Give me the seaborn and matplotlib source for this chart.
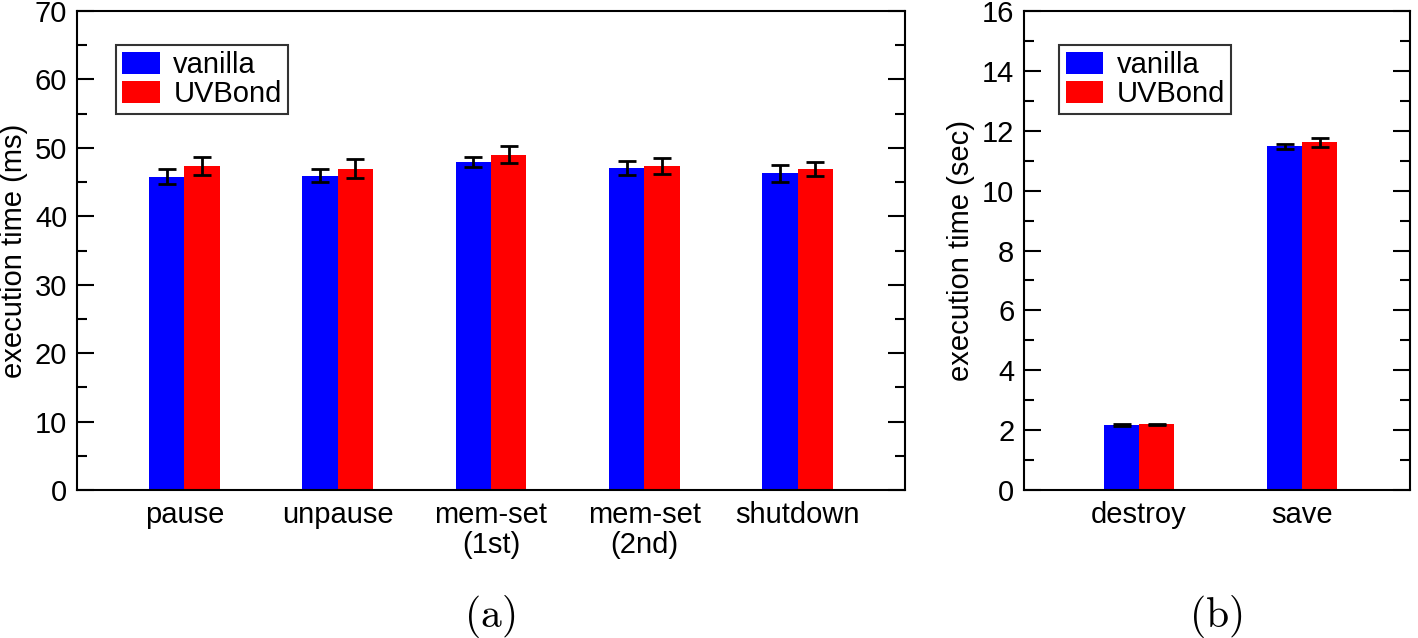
import matplotlib
matplotlib.use("Agg")
import matplotlib.pyplot as plt
import seaborn as sns
import pandas as pd
import numpy as np
from matplotlib.ticker import MultipleLocator

# %% DATA ────────────────────────────────────────────────────────────────
ops_ms      = ["pause", "unpause", "mem-set\n(1st)", "mem-set\n(2nd)", "shutdown"]
vanilla_ms  = [45.8, 45.95, 47.95, 47.05, 46.3]
vanilla_err = [1.07, 0.93, 0.75, 1.05, 1.24]
uvbond_ms   = [47.35, 46.95, 49.0, 47.35, 46.95]
uvbond_err  = [1.36, 1.37, 1.2, 1.17, 1.05]

ops_sec         = ["destroy", "save"]
vanilla_sec     = [2.17, 11.48]
vanilla_sec_err = [0.02, 0.08]
uvbond_sec      = [2.20, 11.61]
uvbond_sec_err  = [0.02, 0.16]

systems = ["vanilla", "UVBond"]
colors  = {"vanilla": "#0000ff", "UVBond": "#ff0000"}

# %% STYLE ───────────────────────────────────────────────────────────────
sns.set_style("ticks")
plt.rcParams["font.family"] = ["Liberation Sans", "DejaVu Sans"]
plt.rcParams["mathtext.fontset"] = "cm"
for k in ["text.color", "axes.labelcolor", "xtick.color", "ytick.color", "axes.edgecolor"]:
    plt.rcParams[k] = "black"

FS = 21


def make_frame(ops, van, van_e, uvb, uvb_e):
    rows = []
    for o, v, e in zip(ops, van, van_e):
        rows.append({"op": o, "system": "vanilla", "time": v, "err": e})
    for o, v, e in zip(ops, uvb, uvb_e):
        rows.append({"op": o, "system": "UVBond", "time": v, "err": e})
    return pd.DataFrame(rows)


def draw_panel(ax, df, ops, width, ylim, major, minor, ylabel, xlim, leg_x):
    sns.barplot(data=df, x="op", y="time", hue="system", hue_order=systems,
                order=ops, palette=colors, width=width, gap=0, errorbar=None,
                saturation=1, ax=ax, linewidth=0)
    # error bars at the centre of every bar
    for cont, sys_name in zip(ax.containers, systems):
        errs = df[df["system"] == sys_name].set_index("op").loc[ops, "err"].values
        xs = [p.get_x() + p.get_width() / 2 for p in cont.patches]
        hs = [p.get_height() for p in cont.patches]
        ax.errorbar(xs, hs, yerr=errs, fmt="none", ecolor="black",
                    elinewidth=2, capsize=6.5, capthick=2)
    ax.set_ylim(*ylim)
    ax.set_xlim(*xlim)
    ax.yaxis.set_major_locator(MultipleLocator(major))
    ax.yaxis.set_minor_locator(MultipleLocator(minor))
    ax.tick_params(axis="y", which="both", direction="in", left=True, right=True,
                   width=1.5, labelsize=FS)
    ax.tick_params(axis="y", which="major", length=12, pad=7)
    ax.tick_params(axis="y", which="minor", length=7)
    ax.tick_params(axis="x", length=0, labelsize=FS, pad=8)
    for lbl in ax.get_xticklabels():
        lbl.set_linespacing(1.1)
    for s in ax.spines.values():
        s.set_visible(True)
        s.set_linewidth(1.5)
    ax.set_xlabel("")
    ax.set_ylabel(ylabel, fontsize=FS, labelpad=5)
    leg = ax.legend(loc="upper left", bbox_to_anchor=(leg_x, 0.929), fontsize=FS,
                    frameon=True, fancybox=False, edgecolor="black",
                    handlelength=1.3, handleheight=0.8, handletextpad=0.45,
                    borderpad=0.22, labelspacing=0.02, borderaxespad=0)
    leg.get_frame().set_linewidth(1.5)


df_ms  = make_frame(ops_ms, vanilla_ms, vanilla_err, uvbond_ms, uvbond_err)
df_sec = make_frame(ops_sec, vanilla_sec, vanilla_sec_err, uvbond_sec, uvbond_sec_err)

fig = plt.figure(figsize=(14.18, 6.38), dpi=100)
ax1 = fig.add_axes([77 / 1418, 1 - 490 / 638, 828 / 1418, 479 / 638])
ax2 = fig.add_axes([1024 / 1418, 1 - 490 / 638, 386 / 1418, 479 / 638])

draw_panel(ax1, df_ms, ops_ms, 0.46, (0, 70), 10, 5,
           "execution time (ms)", (-0.7, 4.7), 0.047)
draw_panel(ax2, df_sec, ops_sec, 0.43, (0, 16), 2, 1,
           "execution time (sec)", (-0.705, 1.66), 0.091)

fig.text(490 / 1418, 1 - 617 / 638, r"$\mathrm{(a)}$", fontsize=30,
         ha="center", va="center")
fig.text(1216 / 1418, 1 - 617 / 638, r"$\mathrm{(b)}$", fontsize=30,
         ha="center", va="center")

fig.savefig("out.png", dpi=100)
